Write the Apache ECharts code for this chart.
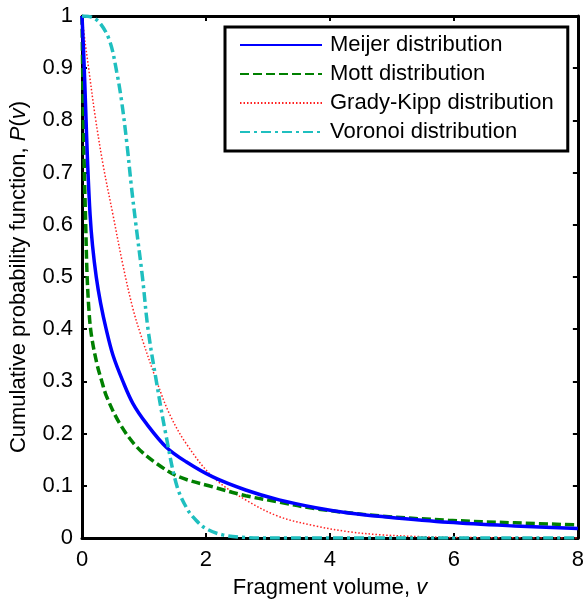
<!DOCTYPE html>
<html>
<head>
<meta charset="utf-8">
<script src="https://cdn.jsdelivr.net/npm/echarts@6/dist/echarts.min.js"></script>
<style>
  html, body { margin: 0; padding: 0; background: #fff; }
  #chart { width: 587px; height: 606px; }
</style>
</head>
<body>
<div id="chart"></div>
<script>
// values: [v, P(v)]
const meijer = [[0,1],[0.03,0.92],[0.06,0.82],[0.09,0.72],[0.13,0.62],[0.17,0.56],[0.23,0.5],[0.3,0.45],[0.39,0.4],[0.5,0.35],[0.66,0.3],[0.82,0.258],[1.04,0.219],[1.36,0.174],[1.68,0.146],[2.11,0.117],[2.64,0.092],[3.18,0.073],[3.77,0.058],[4.3,0.048],[4.84,0.041],[5.91,0.030],[6.98,0.023],[8,0.018]];
const mott = [[0,1],[0.015,0.86],[0.035,0.72],[0.06,0.6],[0.08,0.51],[0.11,0.44],[0.15,0.39],[0.24,0.334],[0.32,0.3],[0.4,0.27],[0.61,0.219],[0.88,0.175],[1.2,0.143],[1.57,0.117],[2.11,0.098],[2.64,0.081],[3.18,0.069],[3.77,0.056],[4.84,0.042],[5.91,0.034],[6.98,0.029],[8,0.025]];
const gradyKipp = [[0,1],[0.05,0.95],[0.1,0.906],[0.21,0.81],[0.34,0.715],[0.5,0.619],[0.66,0.523],[0.82,0.44],[0.96,0.385],[1.2,0.302],[1.41,0.238],[1.68,0.181],[2.11,0.117],[2.64,0.073],[3.18,0.041],[3.77,0.023],[4.3,0.012],[4.84,0.006],[5.37,0.003],[6,0.001],[8,0]];
const voronoi = [[0,1],[0.15,0.998],[0.3,0.985],[0.45,0.951],[0.56,0.893],[0.64,0.836],[0.72,0.76],[0.8,0.67],[0.87,0.6],[0.975,0.5],[1.065,0.4],[1.2,0.3],[1.35,0.2],[1.53,0.1],[1.7,0.055],[1.84,0.034],[2.0,0.018],[2.27,0.006],[2.64,0.001],[3,0],[8,0]];
const seriesNames = ["Meijer distribution", "Mott distribution", "Grady-Kipp distribution", "Voronoi distribution"];

const font = "Liberation Sans";
var chart = echarts.init(document.getElementById("chart"));

function frameAxis(pos, extra) {
  return Object.assign({
    position: pos,
    axisLine: { show: true, onZero: false, lineStyle: { color: "#000", width: 3 } },
    axisTick: { show: true, inside: true, length: 5, lineStyle: { color: "#000", width: 2 } },
    splitLine: { show: false },
  }, extra);
}

var option = {
  animation: false,
  backgroundColor: "#fff",
  grid: { left: 82, right: 7, top: 16, bottom: 68 },
  xAxis: [
    frameAxis("bottom", {
      type: "value", min: 0, max: 8, interval: 2,
      name: "{n|Fragment volume, }{i|v}",
      nameLocation: "middle", nameGap: 39,
      nameTextStyle: {
        rich: {
          n: { fontFamily: font, fontSize: 22, color: "#000" },
          i: { fontFamily: font, fontSize: 22, color: "#000", fontStyle: "italic" },
        },
      },
      axisLabel: { fontFamily: font, fontSize: 22, color: "#000", margin: 11 },
    }),
    frameAxis("top", { type: "value", min: 0, max: 8, interval: 2, axisLabel: { show: false } }),
  ],
  yAxis: [
    frameAxis("left", {
      type: "value", min: 0, max: 1, interval: 0.1,
      name: "{n|Cumulative probability function, }{i|P}{n|(}{i|v}{n|)}",
      nameLocation: "middle", nameGap: 52, nameRotate: 90,
      nameTextStyle: {
        rich: {
          n: { fontFamily: font, fontSize: 22, color: "#000" },
          i: { fontFamily: font, fontSize: 22, color: "#000", fontStyle: "italic" },
        },
      },
      axisLabel: { fontFamily: font, fontSize: 22, color: "#000", margin: 9 },
    }),
    frameAxis("right", { type: "value", min: 0, max: 1, interval: 0.1, axisLabel: { show: false } }),
  ],
  legend: {
    orient: "vertical",
    left: 225, top: 27,
    padding: [7, 14, 8, 14],
    itemWidth: 82, itemHeight: 20, itemGap: 7,
    borderColor: "#000", borderWidth: 3,
    backgroundColor: "#fff",
    itemStyle: { opacity: 0 },
    textStyle: { fontFamily: font, fontSize: 22, color: "#000", padding: [0, 0, 0, 3] },
    data: seriesNames,
  },
  series: [
    {
      name: seriesNames[0], type: "line", data: meijer, symbol: "none", smooth: 0.35,
      lineStyle: { color: "#0000ff", width: 3.5, type: "solid" },
      itemStyle: { color: "#0000ff" }, z: 4,
    },
    {
      name: seriesNames[1], type: "line", data: mott, symbol: "none", smooth: 0.35,
      lineStyle: { color: "#008000", width: 3.5, type: [9, 4] },
      itemStyle: { color: "#008000" }, z: 3,
    },
    {
      name: seriesNames[2], type: "line", data: gradyKipp, symbol: "none", smooth: 0.35,
      lineStyle: { color: "#ff2020", width: 1.5, type: [1.5, 2] },
      itemStyle: { color: "#ff2020" }, z: 2,
    },
    {
      name: seriesNames[3], type: "line", data: voronoi, symbol: "none", smooth: 0.35,
      lineStyle: { color: "#1fbfbf", width: 3.5, type: [10, 4, 3, 4] },
      itemStyle: { color: "#1fbfbf" }, z: 5,
    },
  ],
};
option && chart.setOption(option);
</script>
</body>
</html>
